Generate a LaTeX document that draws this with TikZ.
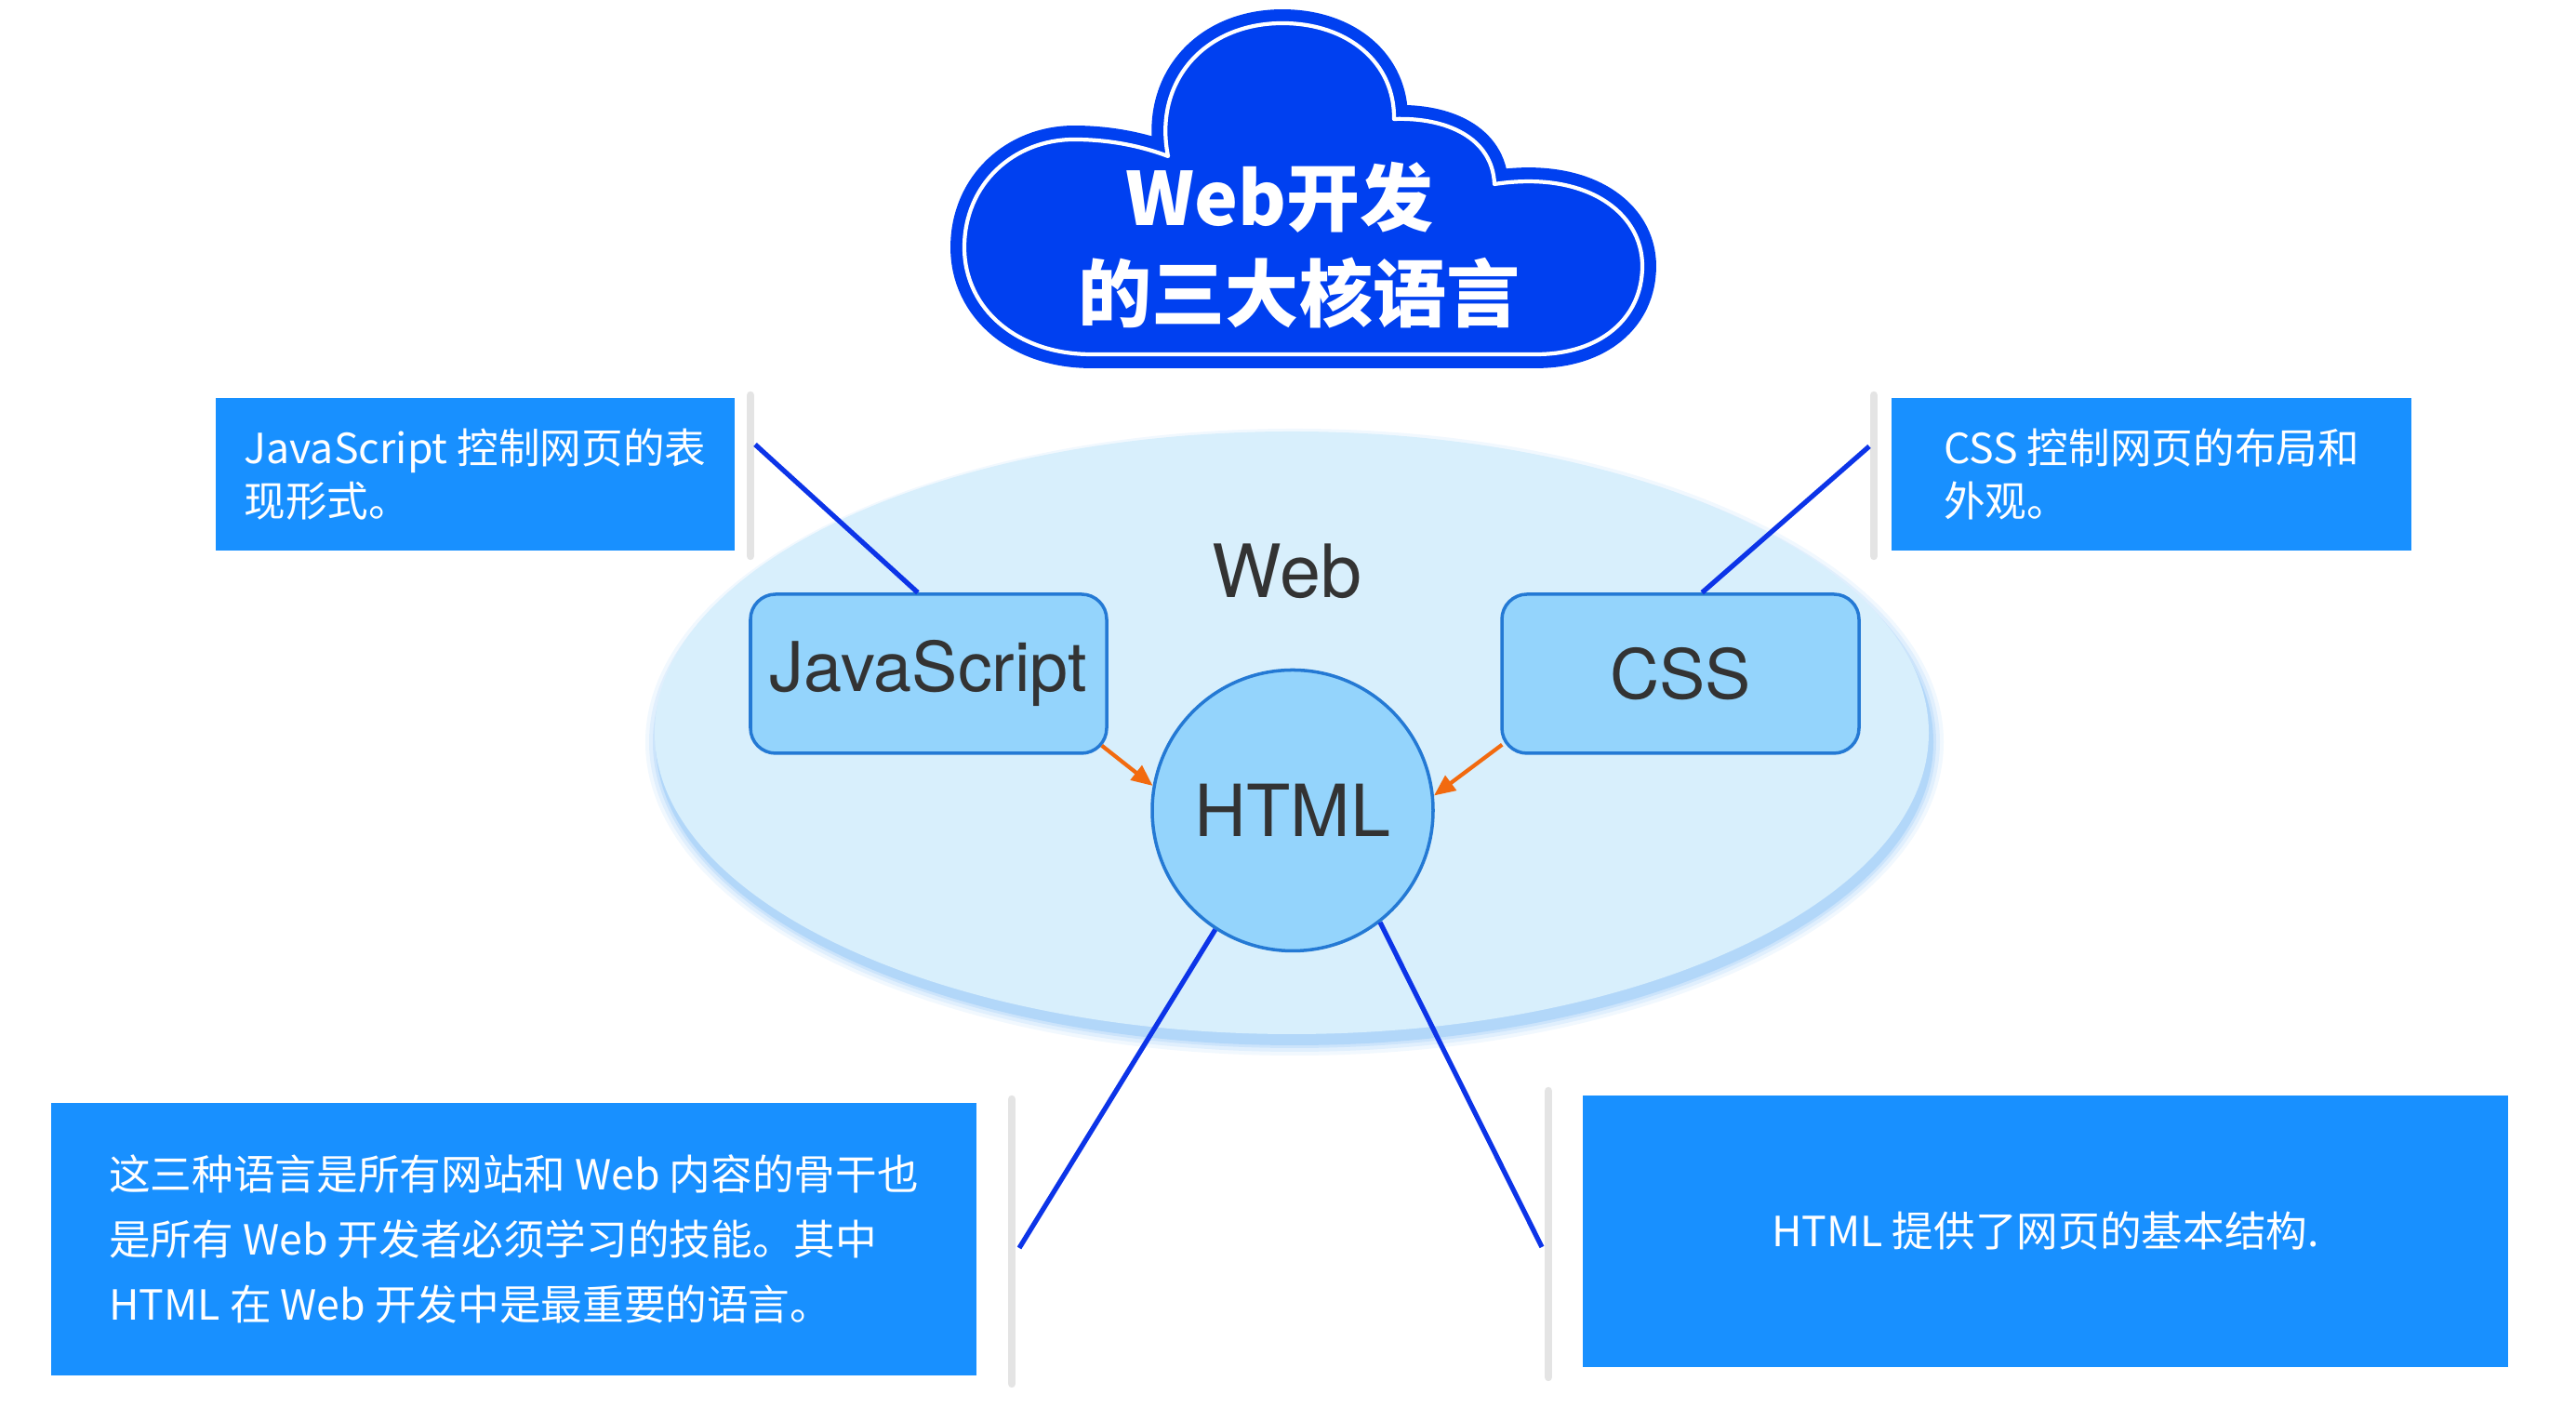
\documentclass[tikz,border=0pt]{standalone}
\usepackage{fontspec}
\setmainfont{Noto Sans CJK SC}
\newfontfamily\labelfont{TeX Gyre Heros}
\usetikzlibrary{arrows.meta,calc}

\definecolor{cloudblue}{RGB}{0,64,240}
\definecolor{boxblue}{RGB}{24,144,255}
\definecolor{webfill}{RGB}{216,239,252}
\definecolor{webglow}{RGB}{120,184,245}
\definecolor{langfill}{RGB}{148,212,252}
\definecolor{langedge}{RGB}{36,121,212}
\definecolor{feedorange}{RGB}{242,106,15}
\definecolor{linkblue}{RGB}{12,52,232}
\definecolor{bargrey}{RGB}{228,228,228}
\definecolor{textgrey}{RGB}{51,51,51}

\begin{document}
\begin{tikzpicture}[
    infobox/.style={fill=boxblue, text=white, align=left, inner sep=0pt},
    langbox/.style={fill=langfill, draw=langedge, line width=1pt, text=textgrey,
        inner sep=0pt, font=\labelfont\fontsize{21}{26}\selectfont},
    sidebar/.style={draw=bargrey, line width=2.4pt, line cap=round},
    link/.style={draw=linkblue, line width=1.5pt},
    feed/.style={draw=feedorange, line width=1.2pt, -{Triangle[length=6.5pt,width=5.5pt]}}
  ]
    \useasboundingbox (0,0) rectangle (27.70,15.28);

    \draw[cloudblue, fill=cloudblue, line width=8.5pt, line join=round]
        (11.73,11.47) .. controls (10.95,11.47) and (10.37,11.95) .. (10.37,12.62)
        .. controls (10.37,13.30) and (10.90,13.78) .. (11.55,13.78)
        .. controls (11.95,13.78) and (12.30,13.70) .. (12.56,13.60)
        .. controls (12.40,14.40) and (12.95,15.03) .. (13.79,15.03)
        .. controls (14.50,15.03) and (15.00,14.60) .. (14.99,14.00)
        .. controls (15.55,14.02) and (16.05,13.80) .. (16.07,13.30)
        .. controls (17.05,13.45) and (17.66,13.00) .. (17.66,12.42)
        .. controls (17.66,11.85) and (17.20,11.47) .. (16.52,11.47) -- cycle;
    \draw[white, line width=1.2pt, line join=round]
        (11.73,11.47) .. controls (10.95,11.47) and (10.37,11.95) .. (10.37,12.62)
        .. controls (10.37,13.30) and (10.90,13.78) .. (11.55,13.78)
        .. controls (11.95,13.78) and (12.30,13.70) .. (12.56,13.60)
        .. controls (12.40,14.40) and (12.95,15.03) .. (13.79,15.03)
        .. controls (14.50,15.03) and (15.00,14.60) .. (14.99,14.00)
        .. controls (15.55,14.02) and (16.05,13.80) .. (16.07,13.30)
        .. controls (17.05,13.45) and (17.66,13.00) .. (17.66,12.42)
        .. controls (17.66,11.85) and (17.20,11.47) .. (16.52,11.47) -- cycle;
    \node[text=white, align=center, font=\fontsize{22.5}{29.2}\selectfont\bfseries] (title) at (13.97,12.645)
        {Web开发\hspace*{0.42cm}\\的三大核语言};

    \foreach \g/\op in {0.13/0.10, 0.09/0.14, 0.05/0.20, 0.02/0.30}
        \fill[webglow, opacity=\op] (13.92,7.30) ellipse [x radius=6.85cm+\g cm, y radius=3.24cm+\g cm];
    \fill[webfill] (13.89,7.40) ellipse [x radius=6.85, y radius=3.24];
    \node[text=textgrey, font=\labelfont\fontsize{22.5}{27}\selectfont] (web) at (13.84,9.14) {Web};

    \node[infobox, minimum width=5.58cm, minimum height=1.64cm, font=\fontsize{12.7}{16.2}\selectfont]
        (jsnote) at (5.11,10.18) {JavaScript 控制网页的表\\现形式。};
    \node[infobox, minimum width=5.59cm, minimum height=1.64cm, font=\fontsize{12.7}{16.2}\selectfont]
        (cssnote) at (23.135,10.18) {CSS 控制网页的布局和\\外观。};
    \node[infobox, minimum width=9.95cm, minimum height=2.93cm, font=\fontsize{12.7}{19.9}\selectfont]
        (allnote) at (5.525,1.955) {这三种语言是所有网站和 Web 内容的骨干也\\是所有 Web 开发者必须学习的技能。其中\\HTML 在 Web 开发中是最重要的语言。};
    \node[infobox, minimum width=9.95cm, minimum height=2.92cm, font=\fontsize{12.7}{16.2}\selectfont]
        (htmlnote) at (21.995,2.04) {HTML 提供了网页的基本结构.};

    \draw[sidebar] (8.07,9.30) -- (8.07,11.03);
    \draw[sidebar] (20.15,9.30) -- (20.15,11.03);
    \draw[sidebar] (10.88,0.40) -- (10.88,3.46);
    \draw[sidebar] (16.65,0.47) -- (16.65,3.55);

    \node[langbox, rounded corners=0.27cm, minimum width=3.83cm, minimum height=1.71cm] (js) at (9.985,8.035) {JavaScript};
    \node[langbox, rounded corners=0.27cm, minimum width=3.84cm, minimum height=1.71cm] (css) at (18.07,8.035) {CSS};
    \node[langbox, circle, minimum size=3.02cm, font=\labelfont\fontsize{22}{26}\selectfont] (html) at (13.90,6.565) {HTML};

    \coordinate (jsend) at (8.12,10.50);
    \coordinate (cssend) at (20.10,10.48);
    \coordinate (allend) at (10.96,1.86);
    \coordinate (htmlend) at (16.58,1.87);

    \draw[link] ($(js.north west)!0.47!(js.north east)$) -- (jsend);
    \draw[link] ($(css.north west)!0.56!(css.north east)$) -- (cssend);
    \draw[link] (html.237) -- (allend);
    \draw[link] (html.-52) -- (htmlend);

    \draw[feed] ($(js.south east)+(-0.07,0.10)$) -- (html.170);
    \draw[feed] ($(css.south west)+(0.02,0.11)$) -- (html.6);
\end{tikzpicture}
\end{document}
